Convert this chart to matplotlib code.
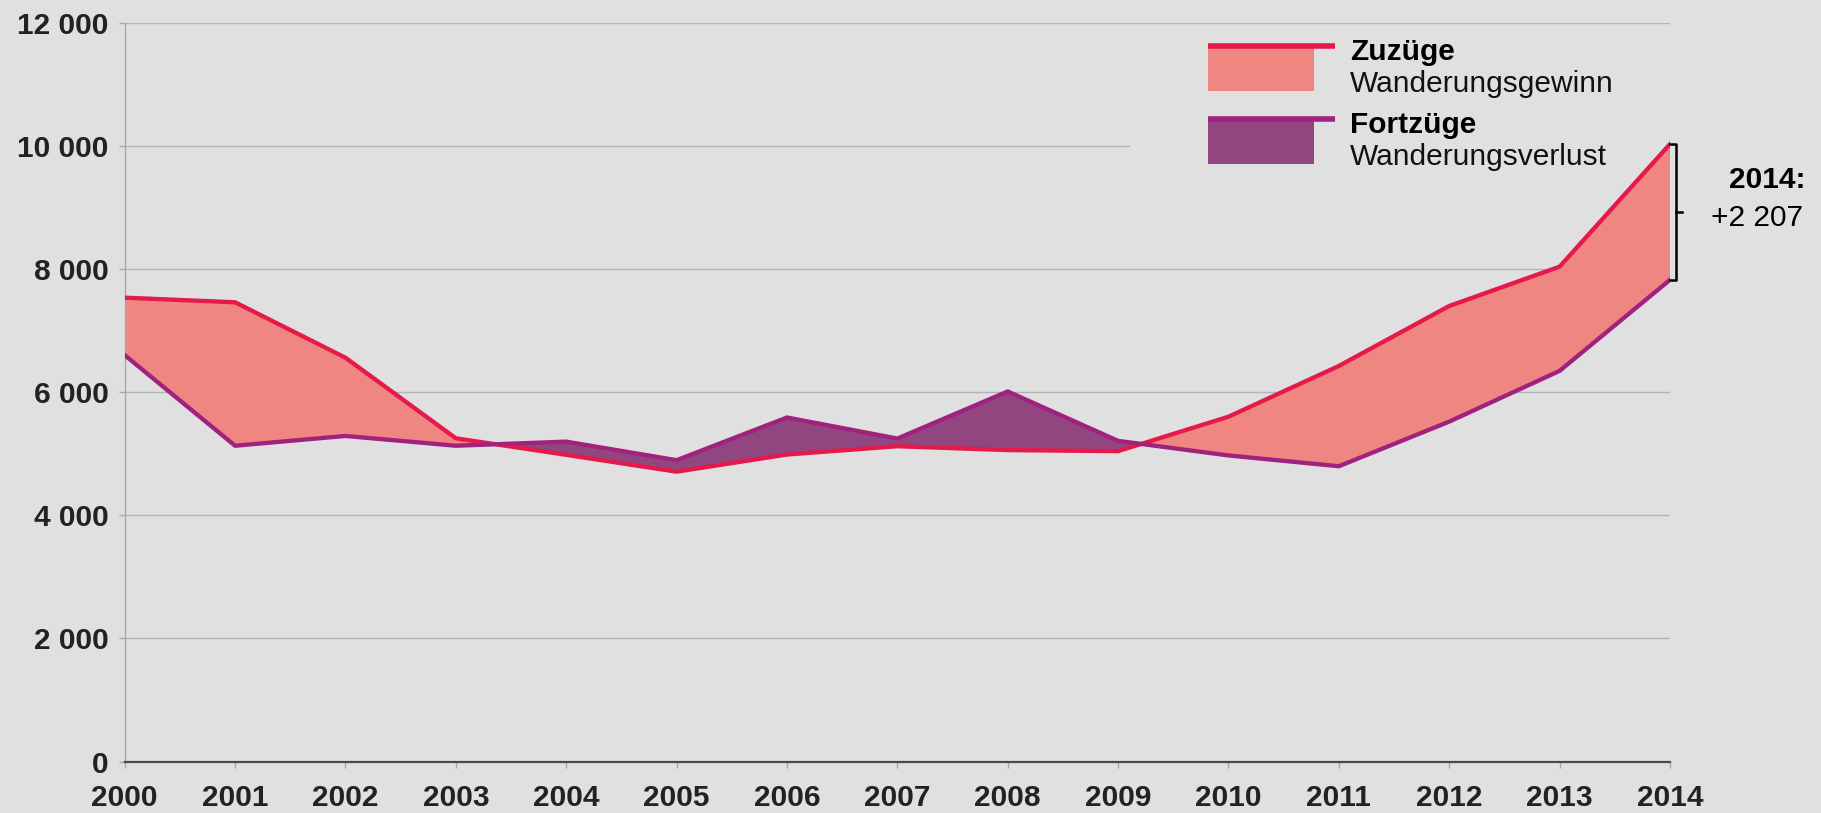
import matplotlib
matplotlib.use("Agg")
import matplotlib.pyplot as plt
from matplotlib.patches import Rectangle
from matplotlib.lines import Line2D
import numpy as np

years = list(range(2000, 2015))
zuzuege = [7540, 7465, 6564, 5254, 4985, 4711, 4990, 5125, 5062, 5045, 5605, 6430, 7405, 8044, 10037]
fortzuege = [6606, 5133, 5292, 5133, 5200, 4898, 5592, 5250, 6015, 5212, 4975, 4800, 5525, 6350, 7830]
yticks = [0, 2000, 4000, 6000, 8000, 10000, 12000]
legend_titles = ["Zuzüge", "Fortzüge"]
legend_subs = ["Wanderungsgewinn", "Wanderungsverlust"]
annot_title = "2014:"

BG = "#e0e0e0"
RED_LINE = "#e6194b"
RED_FILL = "#f08682"
PUR_LINE = "#a1217f"
PUR_FILL = "#924680"
TXT = "#222222"
FONT = ["Liberation Sans", "DejaVu Sans"]

W, H = 1821, 813
fig = plt.figure(figsize=(W / 100, H / 100), dpi=100, facecolor=BG)

def fx(px):
    return px / W

def fy(py):
    return 1 - py / H

ax = fig.add_axes([fx(124.7), fy(761.5), fx(1670) - fx(124.7), fy(23.3) - fy(761.5)])
ax.set_facecolor(BG)
ax.set_xlim(years[0], years[-1])
ax.set_ylim(yticks[0], yticks[-1])

x = np.array(years, dtype=float)
z = np.array(zuzuege, dtype=float)
f = np.array(fortzuege, dtype=float)

ax.fill_between(x, z, f, where=z >= f, interpolate=True, facecolor=RED_FILL, edgecolor="none", zorder=2)
ax.fill_between(x, z, f, where=f > z, interpolate=True, facecolor=PUR_FILL, edgecolor="none", zorder=2)
ax.plot(x, z, color=RED_LINE, lw=3.1, zorder=3, solid_joinstyle="miter")
ax.plot(x, f, color=PUR_LINE, lw=3.1, zorder=4, solid_joinstyle="miter")

ax.set_axisbelow(True)
ax.yaxis.grid(True, color="#b4b4b4", lw=1.0)
ax.set_yticks(yticks)
ax.set_yticklabels([f"{v:,}".replace(",", " ") for v in yticks])
ax.set_xticks(years)
ax.set_xticklabels([str(y) for y in years])
for s in ["top", "right"]:
    ax.spines[s].set_visible(False)
ax.spines["left"].set_color("#a8a8a8")
ax.spines["left"].set_linewidth(1.0)
ax.spines["bottom"].set_color("#4a4a4a")
ax.spines["bottom"].set_linewidth(1.6)
ax.spines["bottom"].set_zorder(5)
ax.tick_params(axis="y", length=4.5, width=1, color="#a8a8a8", pad=7)
ax.tick_params(axis="x", length=4.5, width=1, color="#a8a8a8", pad=12)
for lab in ax.get_xticklabels() + ax.get_yticklabels():
    lab.set_fontfamily(FONT)
    lab.set_fontweight("bold")
    lab.set_fontsize(21.5)
    lab.set_color(TXT)

# background box of the legend, hiding the gridline behind it
ax.add_patch(Rectangle((fx(1130), fy(178)), fx(1672) - fx(1130), fy(32) - fy(178),
                       transform=fig.transFigure, facecolor=BG, edgecolor="none", zorder=1))

# legend
title_base = [60, 133]
sub_base = [91.7, 165]
for i, (lc, fc) in enumerate([(RED_LINE, RED_FILL), (PUR_LINE, PUR_FILL)]):
    top = 46 + i * 73
    fig.add_artist(Rectangle((fx(1208), fy(top + 45)), fx(1314) - fx(1208), fy(top) - fy(top + 45),
                             transform=fig.transFigure, facecolor=fc, edgecolor="none"))
    fig.add_artist(Line2D([fx(1208), fx(1335)], [fy(top), fy(top)], transform=fig.transFigure,
                          color=lc, lw=4.0, solid_capstyle="butt"))
    fig.text(fx(1350), fy(title_base[i]), legend_titles[i], fontsize=21.5, fontweight="bold",
             family=FONT, color="black", va="baseline", ha="left")
    fig.text(fx(1350), fy(sub_base[i]), legend_subs[i], fontsize=21.5,
             family=FONT, color="#111111", va="baseline", ha="left")

# annotation bracket for 2014
diff = zuzuege[-1] - fortzuege[-1]
trans = ax.get_yaxis_transform()
bx = 1.004
ax.plot([1.0, bx, bx, 1.0], [zuzuege[-1], zuzuege[-1], fortzuege[-1], fortzuege[-1]],
        transform=trans, color="black", lw=1.8, clip_on=False, zorder=6)
mid = (zuzuege[-1] + fortzuege[-1]) / 2
ax.plot([bx, bx + 0.004], [mid, mid], transform=trans, color="black", lw=1.8, clip_on=False, zorder=6)
fig.text(fx(1806), fy(188), annot_title, fontsize=21.5, fontweight="bold", family=FONT,
         color="black", ha="right", va="baseline")
fig.text(fx(1803), fy(225.5), f"+{diff:,}".replace(",", " "), fontsize=21.5, family=FONT,
         color="black", ha="right", va="baseline")

fig.savefig("out.png", dpi=100, facecolor=BG)
